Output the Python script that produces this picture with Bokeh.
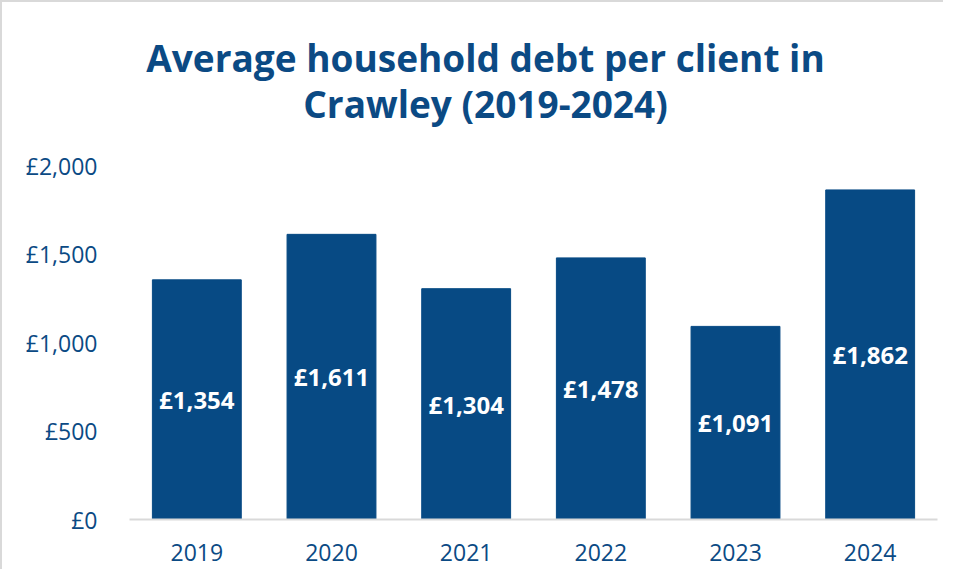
from bokeh.plotting import figure
from bokeh.models import ColumnDataSource, FixedTicker, Div
from bokeh.layouts import column
from bokeh.core.properties import value
from bokeh.embed import file_html
from bokeh.resources import INLINE

years = ["2019", "2020", "2021", "2022", "2023", "2024"]
debt = [1354, 1611, 1304, 1478, 1091, 1862]
bar_labels = ["£1,354", "£1,611", "£1,304", "£1,478", "£1,091", "£1,862"]
y_ticks = [0, 500, 1000, 1500, 2000]
y_tick_labels = ["£0", "£500", "£1,000", "£1,500", "£2,000"]
title_line1 = "Average household debt per client in"
title_line2 = "Crawley (2019-2024)"

BLUE = "#074A84"
TEXT = "#0B4A84"
FONT = "Open Sans"

source = ColumnDataSource(dict(
    x=years,
    top=debt,
    mid=[v / 2 for v in debt],
    lab=bar_labels,
))

title_div = Div(
    text=(f'<div style="font-family:\'{FONT}\';font-weight:bold;font-size:37px;'
          f'line-height:46px;color:{TEXT};text-align:center;padding-top:33px;'
          f'position:relative;left:13px;width:941px;white-space:nowrap;">'
          f'{title_line1}<br>{title_line2}</div>'),
    width=941, height=130, margin=0,
)

p = figure(
    x_range=years, y_range=(0, 2000),
    width=941, height=437,
    output_backend="svg", toolbar_location=None,
    min_border_left=127, min_border_right=6,
    min_border_bottom=50, min_border_top=33,
)
p.title = None

p.vbar(x="x", top="top", width=0.66, color=BLUE, source=source)
p.text(x="x", y="mid", text="lab", source=source,
       text_color="white", text_font=value(FONT), text_font_style="bold",
       text_font_size="24px", text_align="center", text_baseline="middle")

p.outline_line_color = None
p.xgrid.grid_line_color = None
p.ygrid.grid_line_color = None
p.background_fill_color = "white"
p.border_fill_color = "white"

p.yaxis.ticker = FixedTicker(ticks=y_ticks)
p.yaxis.major_label_overrides = {t: l for t, l in zip(y_ticks, y_tick_labels)}
p.yaxis.axis_line_color = None
p.yaxis.major_tick_line_color = None
p.yaxis.minor_tick_line_color = None
p.yaxis.major_label_standoff = 26
p.yaxis.major_label_text_font = FONT
p.yaxis.major_label_text_font_size = "23px"
p.yaxis.major_label_text_color = TEXT

p.xaxis.axis_line_color = "#d9d9d9"
p.xaxis.axis_line_width = 2
p.xaxis.major_tick_line_color = None
p.xaxis.minor_tick_line_color = None
p.xaxis.major_label_standoff = 18
p.xaxis.major_label_text_font = FONT
p.xaxis.major_label_text_font_size = "23px"
p.xaxis.major_label_text_color = TEXT
p.x_range.range_padding = 0

layout = column(title_div, p, spacing=0)
layout.stylesheets = [":host { border-top: 2px solid #d9d9d9; border-left: 2px solid #d9d9d9; background: white; }"]

open("out.html", "w").write(file_html(layout, INLINE))
